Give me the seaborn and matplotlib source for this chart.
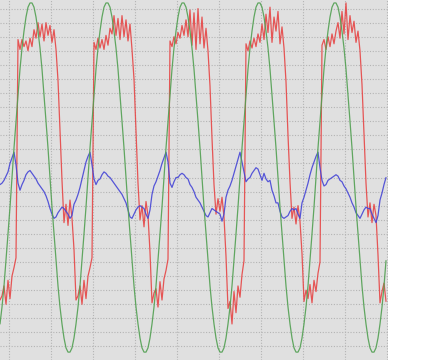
import numpy as np
import pandas as pd
import matplotlib
matplotlib.use("Agg")
import matplotlib.pyplot as plt
import seaborn as sns

# sampled signals (one value every sample step)
green = [
    -10.4, -9.2, -7.7, -5.9, -4.0, -2.1, 0.0, 2.1, 4.0, 5.9, 7.7, 9.2, 10.4, 11.4, 12.1, 12.4, 12.4, 12.1, 11.4, 10.4, 9.2, 7.7, 5.9, 4.0, 2.1, 0.0, -2.1, -4.0, -5.9, -7.7, -9.2, -10.4, -11.4, -12.1, -12.4, -12.4, -12.1, -11.4,
    -10.4, -9.2, -7.7, -5.9, -4.0, -2.1, 0.0, 2.1, 4.0, 5.9, 7.7, 9.2, 10.4, 11.4, 12.1, 12.4, 12.4, 12.1, 11.4, 10.4, 9.2, 7.7, 5.9, 4.0, 2.1, 0.0, -2.1, -4.0, -5.9, -7.7, -9.2, -10.4, -11.4, -12.1, -12.4, -12.4, -12.1, -11.4,
    -10.4, -9.2, -7.7, -5.9, -4.0, -2.1, 0.0, 2.1, 4.0, 5.9, 7.7, 9.2, 10.4, 11.4, 12.1, 12.4, 12.4, 12.1, 11.4, 10.4, 9.2, 7.7, 5.9, 4.0, 2.1, 0.0, -2.1, -4.0, -5.9, -7.7, -9.2, -10.4, -11.4, -12.1, -12.4, -12.4, -12.1, -11.4,
    -10.4, -9.2, -7.7, -5.9, -4.0, -2.1, 0.0, 2.1, 4.0, 5.9, 7.7, 9.2, 10.4, 11.4, 12.1, 12.4, 12.4, 12.1, 11.4, 10.4, 9.2, 7.7, 5.9, 4.0, 2.1, 0.0, -2.1, -4.0, -5.9, -7.7, -9.2, -10.4, -11.4, -12.1, -12.4, -12.4, -12.1, -11.4,
    -10.4, -9.2, -7.7, -5.9, -4.0, -2.1, 0.0, 2.1, 4.0, 5.9, 7.7, 9.2, 10.4, 11.4, 12.1, 12.4, 12.4, 12.1, 11.4, 10.4, 9.2, 7.7, 5.9, 4.0, 2.1, 0.0, -2.1, -4.0, -5.9, -7.7, -9.2, -10.4, -11.4, -12.1, -12.4, -12.4, -12.1, -11.4,
    -10.4, -9.2, -7.7, -5.9,
]

red = [
    -8.7, -8.4, -7.7, -9.0, -7.3, -8.6, -7.0, -6.4, -5.7,
    9.8, 9.1, 9.8, 9.3, 9.7, 9.0, 9.9, 9.3,
    10.5, 9.9, 11.0, 10.0, 10.9, 9.7, 11.0, 10.1, 10.8, 9.6, 10.5, 9.1,
    6.9, 3.4, -0.2, -3.2, -1.9, -3.4, -1.6, -2.9, -5.1, -8.7,
    -8.4, -7.7, -9.0, -7.3, -8.6, -7.0, -6.4, -5.7,
    9.6, 9.1, 9.9, 9.2, 9.8, 9.1, 10.1, 9.4,
    10.6, 10.2, 11.5, 10.1, 11.3, 9.8, 11.5, 10.0, 11.2, 9.7, 10.9, 9.1,
    7.0, 3.2, -0.4, -3.0, -2.0, -3.5, -1.7, -2.7, -5.3, -8.9,
    -8.2, -7.9, -9.2, -7.4, -8.7, -7.2, -6.6, -5.8,
    9.7, 9.3, 10.0, 9.5, 10.3, 9.9, 10.8, 10.1,
    11.2, 10.0, 11.9, 9.4, 11.7, 9.1, 12.0, 9.5, 11.4, 9.2, 10.6, 9.0,
    6.5, 2.8, -0.5, -2.6, -1.5, -2.4, -1.4, -2.8, -5.6, -9.3,
    -8.8, -10.4, -8.1, -9.6, -7.7, -8.5, -6.9, -5.9,
    9.5, 9.0, 9.7, 9.2, 9.9, 9.3, 10.2, 9.6,
    10.9, 9.8, 11.6, 10.3, 12.1, 9.6, 11.4, 10.4, 11.8, 9.5, 10.7, 9.2,
    6.8, 3.0, -0.3, -2.9, -2.1, -3.3, -2.0, -3.1, -5.4, -8.8,
    -8.0, -8.6, -7.6, -8.9, -7.3, -8.1, -6.8, -6.0,
    9.4, 9.8, 9.1, 10.0, 9.3, 10.2, 9.5, 10.4,
    11.0, 9.9, 11.8, 10.2, 12.4, 9.8, 11.5, 10.3, 11.1, 9.6, 10.4, 9.0,
    6.6, 3.1, -0.4, -2.8, -1.8, -3.2, -1.9, -2.7, -5.5, -8.9,
    -8.1, -7.5, -8.8,
]

blue = [
    -0.5, -0.4, -0.2, 0.1, 0.4, 1.0, 1.4, 1.8, 0.9, -0.4,
    -0.9, -0.5, -0.2, 0.2, 0.4, 0.5, 0.3, 0.1, -0.1, -0.4,
    -0.6, -0.8, -1.0, -1.3, -1.7, -2.2, -2.6, -2.9, -2.8, -2.5,
    -2.3, -2.1, -2.2, -2.4, -2.6, -2.9, -2.7, -1.9, -1.6, -1.2,
    -0.7, -0.1, 0.5, 1.1, 1.5, 1.8, 0.9, -0.1, -0.5, -0.2,
    -0.1, 0.2, 0.4, 0.3, 0.1, 0.0, -0.2, -0.4, -0.6, -0.8,
    -1.0, -1.2, -1.5, -1.8, -2.3, -2.8, -2.9, -2.6, -2.3, -2.1,
    -2.0, -2.1, -2.2, -2.6, -2.9, -2.3, -1.2, -0.6, -0.3, 0.1,
    0.5, 1.0, 1.4, 1.8, 1.1, -0.4, -0.7, -0.3, 0.0, 0.0,
    0.2, 0.3, 0.2, 0.0, -0.1, -0.5, -0.7, -1.0, -1.4, -1.6,
    -1.8, -2.1, -2.4, -2.7, -2.8, -2.5, -2.2, -2.3, -2.4, -2.5,
    -2.6, -3.1, -2.6, -1.4, -0.9, -0.6, -0.2, 0.3, 0.8, 1.3,
    1.8, 1.1, 0.4, -0.3, -0.1, 0.0, 0.3, 0.5, 0.7, 0.6,
    0.2, -0.2, 0.3, -0.1, -0.3, -0.2, -0.9, -1.3, -1.8, -1.8,
    -2.4, -2.8, -2.9, -2.8, -2.7, -2.4, -2.2, -2.3, -2.2, -2.6,
    -2.9, -1.8, -1.4, -0.9, -0.4, 0.2, 0.7, 1.1, 1.5, 1.8,
    0.7, -0.2, -0.6, -0.5, -0.2, -0.1, 0.0, 0.1, 0.2, 0.1,
    -0.2, -0.3, -0.6, -0.8, -1.1, -1.4, -1.8, -2.1, -2.5, -2.7,
    -2.9, -2.6, -2.3, -2.1, -2.2, -2.2, -2.6, -2.9, -3.2, -2.7,
    -1.6, -1.1, -0.5, 0.0,
]

T0 = -9 / 42      # time of first sample
DT = 2 / 42       # sample step

sns.set_theme(style="white")
fig = plt.figure(figsize=(4.21, 3.6), dpi=100)
ax = fig.add_axes([0, 0, 388 / 421, 1])
ax.set_facecolor("#e0e0e0")

series = [("red", red, "#e64646"), ("blue", blue, "#4646d6"), ("green", green, "#52a052")]
for name, vals, col in series:
    df = pd.DataFrame({"t": T0 + np.arange(len(vals)) * DT, "v": vals})
    sns.lineplot(data=df, x="t", y="v", ax=ax, color=col, linewidth=0.9,
                 alpha=0.9, estimator=None, sort=False)

ax.set_xlim(T0, (388 - 9) / 42)
ax.set_ylim(-12.96, 12.61)
ax.set_xticks(np.arange(0, 10))
ax.set_yticks(np.arange(-12, 13))
ax.grid(True, color="#b4b4b4", linestyle=(0, (1, 1.5)), linewidth=0.8)
ax.set_axisbelow(True)
ax.tick_params(length=0, labelbottom=False, labelleft=False)
ax.set_xlabel("")
ax.set_ylabel("")
for s in ax.spines.values():
    s.set_visible(False)

fig.savefig("out.png", dpi=100)
